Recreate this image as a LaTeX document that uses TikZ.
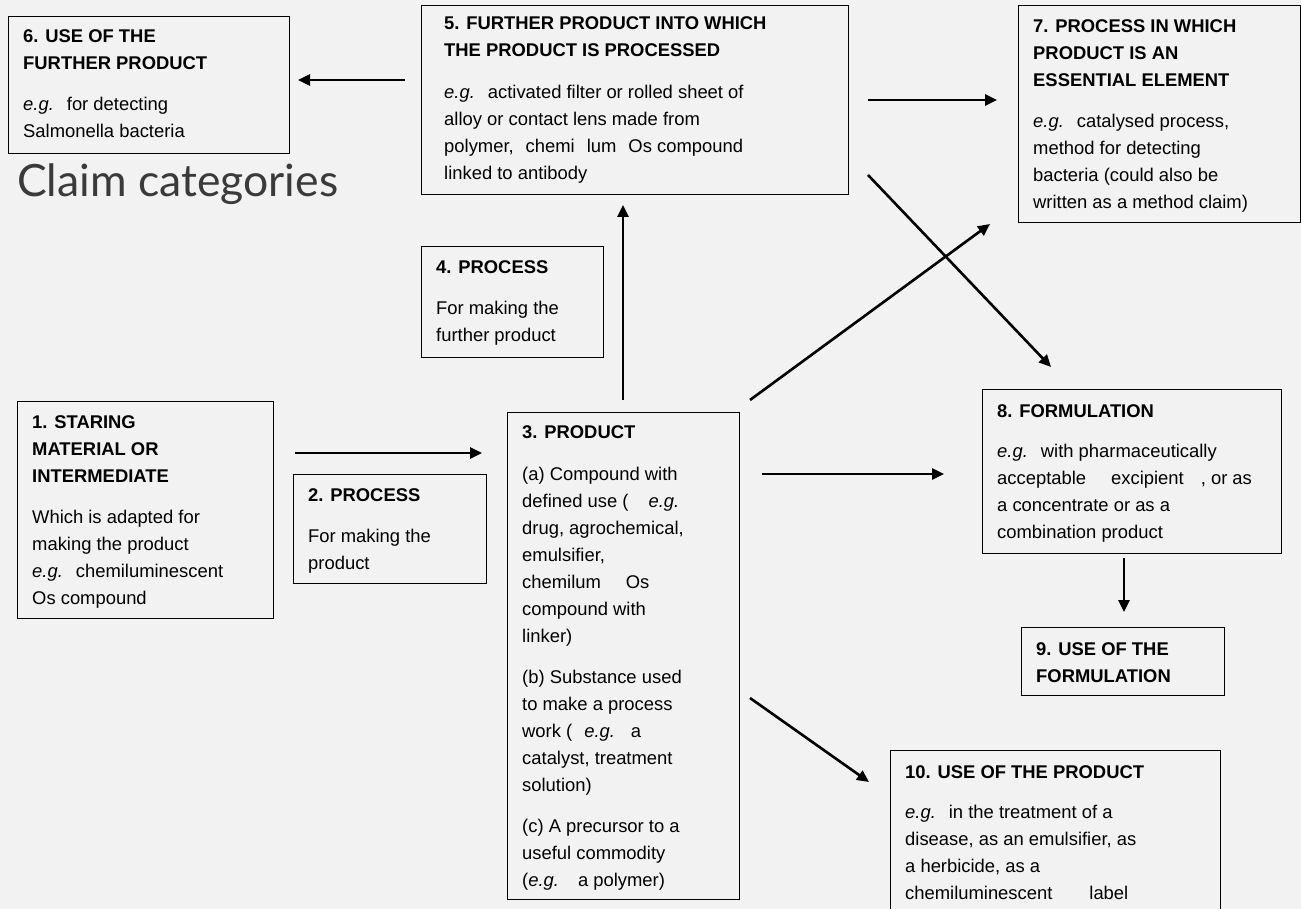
\documentclass[tikz,border=0pt]{standalone}
\usepackage{fontspec}
\setmainfont{Liberation Sans}
\newfontfamily\latofont{Lato}
\usetikzlibrary{arrows.meta}
\definecolor{bg}{HTML}{F2F2F2}
\definecolor{ttl}{HTML}{3A3A3A}
\newcommand{\eg}{\textit{e.g.}\hspace{13pt}}
\newcommand{\gap}[1]{\hspace{#1pt}}
\begin{document}
\begin{tikzpicture}[x=1pt,y=-1pt,
  box/.style={draw=black,line width=1.2pt,inner sep=0pt,anchor=north west},
  txt/.style={inner sep=0pt,anchor=base west,font=\fontsize{18.4}{27}\selectfont},
  arr/.style={line width=2.6pt,-{Triangle[length=12pt,width=11pt]}}]
\fill[bg] (0,0) rectangle (1301,909);
\useasboundingbox (0,0) rectangle (1301,909);

% boxes
\node[box,minimum width=281pt,minimum height=137pt] (b6) at (8,16) {};
\node[box,minimum width=427pt,minimum height=189pt] (b5) at (421,5) {};
\node[box,minimum width=282pt,minimum height=217pt] (b7) at (1018,5) {};
\node[box,minimum width=182pt,minimum height=111pt] (b4) at (421,246) {};
\node[box,minimum width=256pt,minimum height=217pt] (b1) at (17,401) {};
\node[box,minimum width=193pt,minimum height=109pt] (b2) at (293,474) {};
\node[box,minimum width=232pt,minimum height=487pt] (b3) at (507,412) {};
\node[box,minimum width=299pt,minimum height=164pt] (b8) at (982,389) {};
\node[box,minimum width=203pt,minimum height=68pt] (b9) at (1021,627) {};
\node[box,minimum width=330pt,minimum height=180pt] (b10) at (890,750) {};

% title
\node[inner sep=0pt,anchor=base west,text=ttl,font=\latofont\fontsize{44.5}{52}\selectfont] (title) at (17,197) {Claim categories};

% texts
\node[txt] (t6) at (23,43) {\begin{tabular}[t]{@{}l@{}}\textbf{6. USE OF THE}\\ \textbf{FURTHER PRODUCT}\\[14pt] \eg for detecting\\ Salmonella bacteria\end{tabular}};

\node[txt] (t5) at (444,30) {\begin{tabular}[t]{@{}l@{}}\textbf{5. FURTHER PRODUCT INTO WHICH}\\ \textbf{THE PRODUCT IS PROCESSED}\\[15pt] \eg activated filter or rolled sheet of\\ alloy or contact lens made from\\ polymer,\gap{12}chemi\gap{12}lum\gap{12}Os compound\\ linked to antibody\end{tabular}};

\node[txt] (t7) at (1033,33) {\begin{tabular}[t]{@{}l@{}}\textbf{7. PROCESS IN WHICH}\\ \textbf{PRODUCT IS AN}\\ \textbf{ESSENTIAL ELEMENT}\\[14pt] \eg catalysed process,\\ method for detecting\\ bacteria (could also be\\ written as a method claim)\end{tabular}};

\node[txt] (t4) at (436,274) {\begin{tabular}[t]{@{}l@{}}\textbf{4. PROCESS}\\[14pt] For making the\\ further product\end{tabular}};

\node[txt] (t1) at (32,428) {\begin{tabular}[t]{@{}l@{}}\textbf{1. STARING}\\ \textbf{MATERIAL OR}\\ \textbf{INTERMEDIATE}\\[14pt] Which is adapted for\\ making the product\\ \eg chemiluminescent\\ Os compound\end{tabular}};

\node[txt] (t2) at (308,501) {\begin{tabular}[t]{@{}l@{}}\textbf{2. PROCESS}\\[14pt] For making the\\ product\end{tabular}};

\node[txt] (t3) at (522,438) {\begin{tabular}[t]{@{}l@{}}\textbf{3. PRODUCT}\\[15pt]
(a) Compound with\\
defined use (\gap{20}\textit{e.g.}\\
drug, agrochemical,\\
emulsifier,\\
chemilum\gap{25}Os\\
compound with\\
linker)\\[14pt]
(b) Substance used\\
to make a process\\
work (\gap{12}\textit{e.g.}\gap{16}a\\
catalyst, treatment\\
solution)\\[14pt]
(c) A precursor to a\\
useful commodity\\
(\textit{e.g.}\gap{19}a polymer)\end{tabular}};

\node[txt] (t8) at (997,417) {\begin{tabular}[t]{@{}l@{}}\textbf{8. FORMULATION}\\[13pt] \eg with pharmaceutically\\ acceptable\gap{25}excipient\gap{17}, or as\\ a concentrate or as a\\ combination product\end{tabular}};

\node[txt] (t9) at (1036,655) {\begin{tabular}[t]{@{}l@{}}\textbf{9. USE OF THE}\\ \textbf{FORMULATION}\end{tabular}};

\node[txt] (t10) at (905,778) {\begin{tabular}[t]{@{}l@{}}\textbf{10. USE OF THE PRODUCT}\\[13pt] \eg in the treatment of a\\ disease, as an emulsifier, as\\ a herbicide, as a\\ chemiluminescent\gap{37}label\end{tabular}};

% arrow end points
\coordinate (p56a) at (405,80);  \coordinate (p56b) at (298,80);
\coordinate (p57a) at (868,100); \coordinate (p57b) at (997,100);
\coordinate (p35a) at (623,400); \coordinate (p35b) at (623,205);
\coordinate (p13a) at (295,453); \coordinate (p13b) at (482,453);
\coordinate (p37a) at (750,400); \coordinate (p37b) at (990,224);
\coordinate (p58a) at (868,175); \coordinate (p58b) at (1051,367);
\coordinate (p38a) at (762,474); \coordinate (p38b) at (944,474);
\coordinate (p89a) at (1124,558); \coordinate (p89b) at (1124,612);
\coordinate (p310a) at (750,698); \coordinate (p310b) at (869,782);

\draw[arr] (p56a) -- (p56b);
\draw[arr] (p57a) -- (p57b);
\draw[arr] (p35a) -- (p35b);
\draw[arr] (p13a) -- (p13b);
\draw[arr] (p37a) -- (p37b);
\draw[arr] (p58a) -- (p58b);
\draw[arr] (p38a) -- (p38b);
\draw[arr] (p89a) -- (p89b);
\draw[arr] (p310a) -- (p310b);
\end{tikzpicture}
\end{document}
